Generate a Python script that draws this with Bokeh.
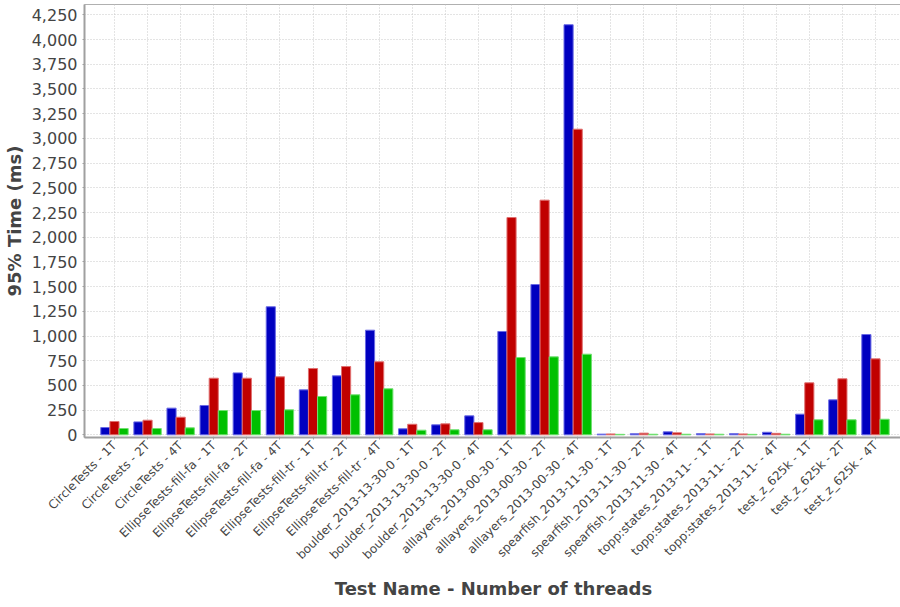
from math import pi

from bokeh.plotting import figure
from bokeh.models import (Range1d, FixedTicker, NumeralTickFormatter, Legend,
                          LegendItem, ColumnDataSource)
from bokeh.embed import file_html
from bokeh.resources import INLINE

# Benchmark results: 95th percentile time per test / thread count
tests = [
    "CircleTests - 1T", "CircleTests - 2T", "CircleTests - 4T",
    "EllipseTests-fill-fa - 1T", "EllipseTests-fill-fa - 2T", "EllipseTests-fill-fa - 4T",
    "EllipseTests-fill-tr - 1T", "EllipseTests-fill-tr - 2T", "EllipseTests-fill-tr - 4T",
    "boulder_2013-13-30-0 - 1T", "boulder_2013-13-30-0 - 2T", "boulder_2013-13-30-0 - 4T",
    "alllayers_2013-00-30 - 1T", "alllayers_2013-00-30 - 2T", "alllayers_2013-00-30 - 4T",
    "spearfish_2013-11-30 - 1T", "spearfish_2013-11-30 - 2T", "spearfish_2013-11-30 - 4T",
    "topp:states_2013-11- - 1T", "topp:states_2013-11- - 2T", "topp:states_2013-11- - 4T",
    "test_z_625k - 1T", "test_z_625k - 2T", "test_z_625k - 4T",
]

series_names = ["ductus_20160122.log", "pisces_20160122.log", "marlin_20160122.log"]

ductus = [74, 131, 270, 297, 627, 1296, 455, 597, 1059, 61, 101, 192,
          1046, 1521, 4150, 7, 11, 30, 12, 12, 26, 209, 354, 1015]
pisces = [135, 148, 178, 573, 573, 587, 671, 691, 739, 107, 111, 124,
          2199, 2375, 3093, 9, 17, 20, 9, 9, 15, 526, 567, 769]
marlin = [64, 64, 71, 246, 246, 253, 388, 405, 466, 47, 51, 51,
          782, 789, 816, 5, 6, 6, 6, 5, 6, 152, 152, 158]

y_ticks = list(range(0, 4251, 250))

fills = ["#0000c0", "#c00000", "#00c000"]
edges = ["#6a6ae6", "#e07070", "#70e070"]

FONT = "DejaVu Sans"
TEXT = "#444444"

p = figure(frame_width=818, frame_height=433,
           output_backend="svg", toolbar_location=None,
           x_range=Range1d(-0.906, 23.816), y_range=Range1d(-27, 4355),
           min_border_left=81, min_border_right=1, min_border_top=4,
           min_border_bottom=0)

bar_w = 0.276
offsets = [-bar_w, 0.0, bar_w]
idx = list(range(len(tests)))
renderers = []
for vals, off, fc, lc in zip([ductus, pisces, marlin], offsets, fills, edges):
    src = ColumnDataSource(dict(x=[i + off for i in idx], top=vals))
    r = p.vbar(x="x", top="top", bottom=0, width=bar_w, source=src,
               fill_color=fc, line_color=lc, line_width=1)
    renderers.append(r)

# axes
xa = p.xaxis[0]
xa.ticker = FixedTicker(ticks=idx)
xa.major_label_overrides = {i: t for i, t in enumerate(tests)}
xa.major_label_orientation = pi / 4
xa.major_label_text_font = FONT
xa.major_label_text_font_size = "12px"
xa.major_label_text_color = TEXT
xa.major_label_standoff = 4
xa.axis_label = "Test Name - Number of threads"
xa.axis_label_text_font = FONT
xa.axis_label_text_font_style = "bold"
xa.axis_label_text_font_size = "18px"
xa.axis_label_text_color = TEXT
xa.axis_label_standoff = 8
xa.axis_line_color = "#a0a0a0"
xa.axis_line_width = 2
xa.major_tick_out = 2
xa.major_tick_in = 0
xa.major_tick_line_color = "#a0a0a0"
xa.minor_tick_line_color = None

ya = p.yaxis[0]
ya.ticker = FixedTicker(ticks=y_ticks)
ya.formatter = NumeralTickFormatter(format="0,0")
ya.major_label_text_font = FONT
ya.major_label_text_font_size = "16px"
ya.major_label_text_color = TEXT
ya.major_label_standoff = 5
ya.axis_label = "95% Time (ms)"
ya.axis_label_text_font = FONT
ya.axis_label_text_font_style = "bold"
ya.axis_label_text_font_size = "18px"
ya.axis_label_text_color = TEXT
ya.axis_label_standoff = 4
ya.axis_line_color = "#a0a0a0"
ya.axis_line_width = 2
ya.major_tick_out = 2
ya.major_tick_in = 0
ya.major_tick_line_color = "#a0a0a0"
ya.minor_tick_line_color = None

# dotted grid
for g in (p.xgrid[0], p.ygrid[0]):
    g.grid_line_color = "#c8c8c8"
    g.grid_line_dash = "1 2"
p.xgrid[0].ticker = FixedTicker(ticks=idx)
p.ygrid[0].ticker = FixedTicker(ticks=y_ticks)

p.outline_line_color = "#b0b0b0"
p.background_fill_color = "white"
p.border_fill_color = "white"

legend = Legend(
    items=[LegendItem(label=n, renderers=[r]) for n, r in zip(series_names, renderers)],
    orientation="horizontal", location="center",
    glyph_width=5, glyph_height=5, label_standoff=2, spacing=2,
    padding=2, margin=0, label_height=16,
    label_text_font=FONT, label_text_font_size="16px", label_text_color="#333333",
    border_line_color="#666666", background_fill_color="white",
)
p.add_layout(legend, "below")

open("out.html", "w").write(file_html(p, INLINE))
